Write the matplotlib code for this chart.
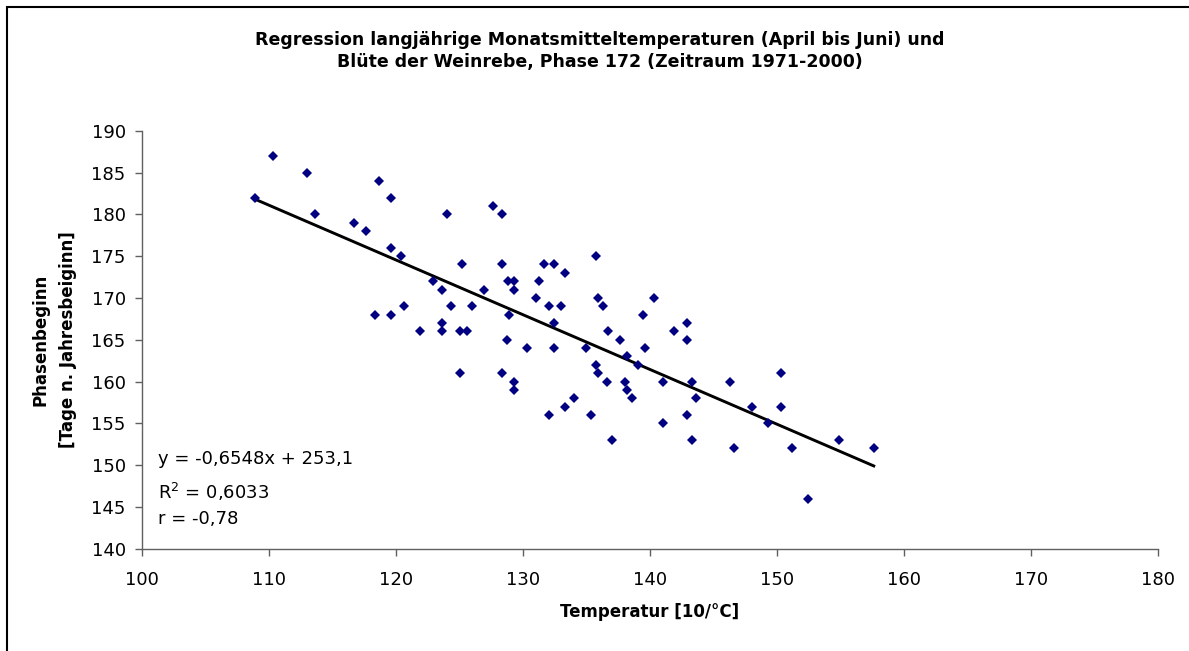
import matplotlib
matplotlib.use('Agg')
import matplotlib.pyplot as plt
from matplotlib.patches import Rectangle
import numpy as np

plt.rcParams['font.family'] = 'DejaVu Sans'

# Temperature (10/°C) and phase onset (days after start of year)
temperatur = [
    108.9, 110.3, 113.0, 113.6, 116.7, 117.6, 118.6, 119.6, 119.6, 120.4,
    118.3, 119.6, 120.6, 121.9, 122.9, 123.6, 123.6, 123.6, 124.0, 124.3,
    125.0, 125.2, 125.6, 126.0, 126.9, 127.6, 128.3, 128.3, 128.8, 128.9,
    128.7, 129.3, 129.3, 130.3, 131.0, 131.2, 131.6, 132.0, 132.4, 132.4,
    132.4, 133.0, 133.3, 134.9, 135.7, 135.9, 136.3, 136.7, 137.6, 138.2,
    139.0, 139.4, 139.6, 140.3, 141.9, 142.9, 142.9, 125.0, 128.3, 129.3,
    129.3, 135.7, 135.9, 136.6, 138.0, 138.2, 138.6, 134.0, 133.3, 132.0,
    135.3, 137.0, 141.0, 141.0, 142.9, 143.3, 143.6, 143.3, 146.3, 146.6,
    148.0, 149.3, 150.3, 150.3, 151.2, 152.4, 154.9, 157.6,
]
phasenbeginn = [
    182, 187, 185, 180, 179, 178, 184, 182, 176, 175,
    168, 168, 169, 166, 172, 171, 167, 166, 180, 169,
    166, 174, 166, 169, 171, 181, 180, 174, 172, 168,
    165, 172, 171, 164, 170, 172, 174, 169, 174, 167,
    164, 169, 173, 164, 175, 170, 169, 166, 165, 163,
    162, 168, 164, 170, 166, 167, 165, 161, 161, 160,
    159, 162, 161, 160, 160, 159, 158, 158, 157, 156,
    156, 153, 160, 155, 156, 160, 158, 153, 160, 152,
    157, 155, 161, 157, 152, 146, 153, 152,
]

# trend line as given in the chart
slope = -0.6548
intercept = 253.1

x_ticks = list(range(100, 181, 10))
y_ticks = list(range(140, 191, 5))

fig = plt.figure(figsize=(11.89, 6.51), dpi=100)
ax = fig.add_axes([0.1197, 0.1571, 0.8544, 0.6421])

ax.plot(temperatur, phasenbeginn, linestyle='none', marker='D', markersize=5.4,
        color='#000080', markeredgewidth=0, zorder=3)

x_line = np.array([min(temperatur), max(temperatur)])
ax.plot(x_line, slope * x_line + intercept, color='black', lw=2.1, zorder=2)

ax.set_xlim(100, 180)
ax.set_ylim(140, 190)
ax.set_xticks(x_ticks)
ax.set_yticks(y_ticks)

axis_grey = '#606060'
for side in ['top', 'right']:
    ax.spines[side].set_visible(False)
for side in ['left', 'bottom']:
    ax.spines[side].set_color(axis_grey)
    ax.spines[side].set_linewidth(1.0)
ax.tick_params(axis='x', direction='out', length=5, width=1, color=axis_grey,
               labelsize=13, pad=11)
ax.tick_params(axis='y', direction='out', length=5, width=1, color=axis_grey,
               labelsize=13, pad=7)

# regression info
ax.text(0.0155, 0.2146, 'y = -0,6548x + 253,1', transform=ax.transAxes,
        fontsize=13, va='center', ha='left')
ax.text(0.0155, 0.1356, 'R$^2$ = 0,6033', transform=ax.transAxes,
        fontsize=13, va='center', ha='left')
ax.text(0.0155, 0.0710, 'r = -0,78', transform=ax.transAxes,
        fontsize=13, va='center', ha='left')

fig.text(650 / 1189, 1 - 612 / 651, 'Temperatur [10/°C]', ha='center', va='center',
         fontsize=12, fontweight='bold')
fig.text(54 / 1189, 1 - 340 / 651, 'Phasenbeginn\n[Tage n. Jahresbeiginn]',
         rotation=90, ha='center', va='center', fontsize=12, fontweight='bold',
         linespacing=1.65, multialignment='center')

fig.text(600 / 1189, 1 - 51 / 651,
         'Regression langjährige Monatsmitteltemperaturen (April bis Juni) und\n'
         'Blüte der Weinrebe, Phase 172 (Zeitraum 1971-2000)',
         ha='center', va='center', fontsize=12.5, fontweight='bold', linespacing=1.3)

# outer chart border (only top/left visible in the original crop)
fig.add_artist(Rectangle((7 / 1189, -0.1), 1.2, 1.1 - 7 / 651, transform=fig.transFigure,
                         fill=False, edgecolor='black', linewidth=1.5))

plt.savefig('out.png', dpi=100)
